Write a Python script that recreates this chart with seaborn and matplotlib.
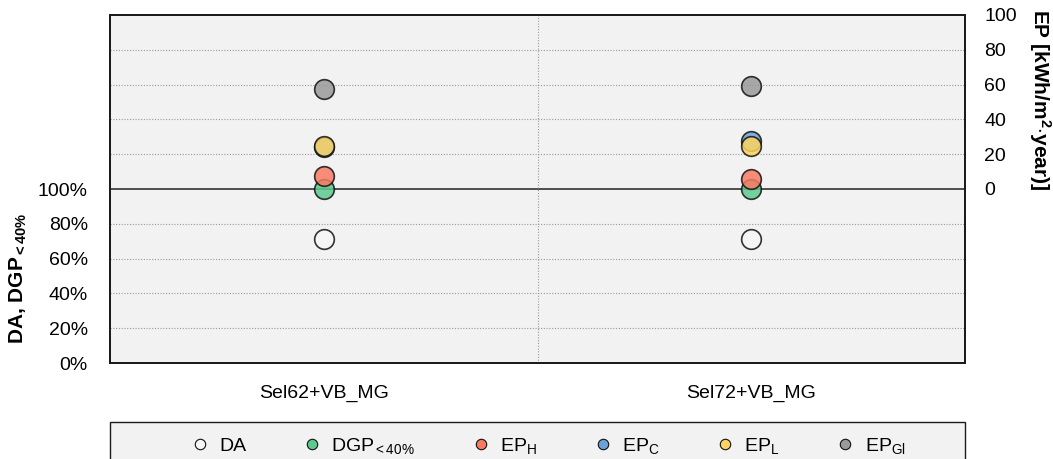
import pandas as pd
import numpy as np
import matplotlib.pyplot as plt
import seaborn as sns
from matplotlib.lines import Line2D
from matplotlib.patches import Rectangle

# data
cases = ['Sel62+VB_MG', 'Sel72+VB_MG']
da = [0.71, 0.71]
dgp = [1.00, 1.00]
ep_h = [7.5, 6.0]
ep_c = [24.0, 27.6]
ep_l = [24.7, 24.7]
ep_gl = [57.5, 59.3]

left_series = [('DA', da, '#f7f7f7'), ('DGP$_{<40\\%}$', dgp, '#5ec98f')]
right_series = [('EP$_{H}$', ep_h, '#f87a63'), ('EP$_{C}$', ep_c, '#6aa2d8'),
                ('EP$_{L}$', ep_l, '#fdd35e'), ('EP$_{Gl}$', ep_gl, '#9a9a9a')]

sns.set_style("white")
plt.rcParams['font.family'] = ['Liberation Sans', 'DejaVu Sans']
plt.rcParams['text.color'] = 'black'
plt.rcParams['xtick.color'] = 'black'
plt.rcParams['ytick.color'] = 'black'
plt.rcParams['mathtext.fontset'] = 'custom'
plt.rcParams['mathtext.rm'] = 'Liberation Sans'
plt.rcParams['mathtext.it'] = 'Liberation Sans'
plt.rcParams['mathtext.bf'] = 'Liberation Sans:bold'

fig = plt.figure(figsize=(10.53, 4.59), dpi=100)
ax = fig.add_axes([110 / 1053, 1 - 363 / 459, 855 / 1053, 348 / 459])
ax.set_facecolor('#f2f2f2')
ax2 = ax.twinx()

xpos = np.arange(len(cases))
handles = []
for name, vals, col in left_series:
    df = pd.DataFrame({'x': xpos, 'y': vals})
    sns.scatterplot(data=df, x='x', y='y', ax=ax, s=200, color=col, alpha=0.85,
                    edgecolor='#111111', linewidth=1.2, zorder=3)
    handles.append(Line2D([], [], marker='o', ls='', markersize=7.5, markerfacecolor=col,
                          markeredgecolor='#111111', markeredgewidth=0.8, label=name))
for name, vals, col in right_series:
    df = pd.DataFrame({'x': xpos, 'y': vals})
    sns.scatterplot(data=df, x='x', y='y', ax=ax2, s=200, color=col, alpha=0.85,
                    edgecolor='#111111', linewidth=1.2, zorder=3)
    handles.append(Line2D([], [], marker='o', ls='', markersize=7.5, markerfacecolor=col,
                          markeredgecolor='#111111', markeredgewidth=0.8, label=name))

ax.set_xlim(-0.5, 1.5)
ax.set_ylim(0, 2.0)
ax2.set_ylim(-100, 100)

# grid
for g in np.arange(0.2, 2.0, 0.2):
    if abs(g - 1.0) < 1e-6:
        ax.axhline(g, color='#333333', lw=1.2, zorder=1)
    else:
        ax.axhline(g, color='#999999', lw=0.8, ls=(0, (1, 1.5)), zorder=1)
ax.axvline(0.5, color='#999999', lw=0.8, ls=(0, (1, 1.5)), zorder=1)

ax.set_xticks(xpos)
ax.set_xticklabels(cases, fontsize=14)
ax.set_yticks(np.arange(0, 1.01, 0.2))
ax.set_yticklabels([f'{int(round(v * 100))}%' for v in np.arange(0, 1.01, 0.2)], fontsize=14)
ax2.set_yticks(np.arange(0, 101, 20))
ax2.set_yticklabels([str(v) for v in range(0, 101, 20)], fontsize=14)
ax.tick_params(axis='x', length=0, pad=16)
ax.tick_params(axis='y', length=0, pad=16)
ax2.tick_params(axis='y', length=0, pad=14)

ax.set_xlabel('')
ax.set_ylabel('')
ax2.set_ylabel('')
fig.text(18 / 1053, 1 - 278 / 459, 'DA, DGP$_{\\mathbf{<40\\%}}$', fontsize=15,
         fontweight='bold', rotation=90, ha='center', va='center')
fig.text(1040 / 1053, 1 - 100 / 459, 'EP [kWh/m$^{\\mathbf{2}}$$\\cdot$year)]', fontsize=15,
         fontweight='bold', rotation=270, ha='center', va='center')

for a in (ax, ax2):
    for sp in a.spines.values():
        sp.set_color('#1a1a1a')
        sp.set_linewidth(1.3)

# legend box below the plot, cut by the figure edge as in the original
fig.patches.append(Rectangle((110 / 1053, 1 - 470 / 459), 855 / 1053, 48 / 459,
                             transform=fig.transFigure, facecolor='#f2f2f2',
                             edgecolor='#1a1a1a', linewidth=1.0, zorder=0))
leg = fig.legend(handles=handles, loc='center', ncol=6,
                 bbox_to_anchor=(543 / 1053, 1 - 446 / 459),
                 frameon=False, fontsize=14, handletextpad=0.0,
                 columnspacing=2.37)

fig.savefig('out.png', dpi=100)
